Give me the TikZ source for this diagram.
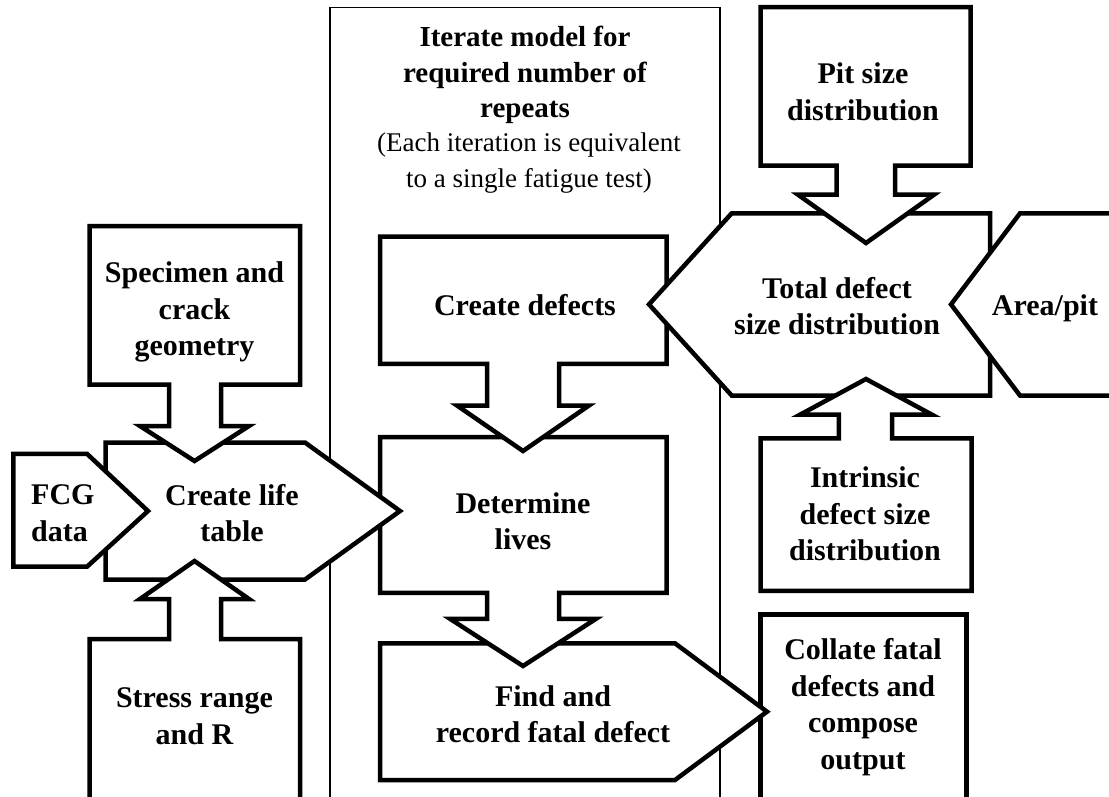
\documentclass[tikz,border=0pt]{standalone}
\usepackage{fontspec}
\setmainfont{Liberation Serif}
\begin{document}
\begin{tikzpicture}[x=1pt,y=-1pt,
  blk/.style={draw,fill=white,line width=4.5pt},
  frame/.style={draw,line width=1.3pt},
  lbl/.style={font=\fontsize{30}{36.5}\selectfont\bfseries,align=center,inner sep=0pt}]
\useasboundingbox (0,0) rectangle (1109,796);
\clip (0,0) rectangle (1109,796);
\draw[frame] (330,7.3) rectangle (720,830);
\draw[blk] (760.5,614.5) rectangle (966.5,830);
\draw[blk] (380,643.3)--(675,643.3)--(767,711.7)--(675,780)--(380,780)--cycle;
\draw[blk] (380,437)--(666.7,437)--(666.7,592.8)--(559,592.8)--(559,618.8)--(596,618.8)--(523,666)
  --(450,618.8)--(487,618.8)--(487,592.8)--(380,592.8)--cycle;
\draw[blk] (105.5,442.5)--(305,442.5)--(400,511)--(305,579.5)--(105.5,579.5)--cycle;
\draw[blk] (13.3,453.8)--(87,453.8)--(148,511)--(87,566.7)--(13.3,566.7)--cycle;
\draw[blk] (89.5,226)--(300,226)--(300,384.5)--(221,384.5)--(221,426)--(249,426)--(194.5,461)
  --(140,426)--(169,426)--(169,384.5)--(89.5,384.5)--cycle;
\draw[blk] (89.5,830)--(89.5,639)--(169,639)--(169,599)--(140,599)--(194.5,561)--(249,599)
  --(221,599)--(221,639)--(300,639)--(300,830)--cycle;
\draw[blk] (380,236.7)--(666.7,236.7)--(666.7,363.8)--(559,363.8)--(559,405.5)--(589,405.5)--(523,451)
  --(457,405.5)--(487,405.5)--(487,363.8)--(380,363.8)--cycle;
\draw[blk] (731.7,213.3)--(990,213.3)--(990,395.5)--(731.7,395.5)--(649,304.4)--cycle;
\draw[blk] (760.5,7.2)--(970.5,7.2)--(970.5,165.5)--(895,165.5)--(895,194.7)--(934,194.7)--(866,243)
  --(798,194.7)--(836.5,194.7)--(836.5,165.5)--(760.5,165.5)--cycle;
\draw[blk] (760.5,590.8)--(760.5,438.3)--(838.8,438.3)--(838.8,414.7)--(800,414.7)--(866,379)
  --(932,414.7)--(892,414.7)--(892,438.3)--(971.7,438.3)--(971.7,590.8)--cycle;
\draw[blk] (1020,213.3)--(1130,213.3)--(1130,395.5)--(1020,395.5)--(951,304.4)--cycle;
\node[lbl,font=\fontsize{29}{35.5}\selectfont\bfseries] (title) at (525,75) {Iterate model for\\required number of\\repeats};
\node[lbl,font=\fontsize{27}{35.5}\selectfont] (note) at (529,163) {(Each iteration is equivalent\\to a single fatigue test)};
\node[lbl] (specimen) at (194.5,312) {Specimen and\\crack\\geometry};
\node[lbl,align=left,anchor=west] (fcg) at (31,513) {FCG\\data};
\node[lbl] (lifetable) at (232,513) {Create life\\table};
\node[lbl] (stress) at (194.5,716) {Stress range\\and R};
\node[lbl] (create) at (525,305) {Create defects};
\node[lbl] (lives) at (523,521) {Determine\\lives};
\node[lbl] (fatal) at (553,714) {Find and\\record fatal defect};
\node[lbl] (total) at (837,306) {Total defect\\size distribution};
\node[lbl] (area) at (1045,308) {Area/pit};
\node[lbl] (pit) at (863,92) {Pit size\\distribution};
\node[lbl] (intrinsic) at (865,514) {Intrinsic\\defect size\\distribution};
\node[lbl] (collate) at (863,707) {Collate fatal\\defects and\\compose\\output};
\end{tikzpicture}
\end{document}
